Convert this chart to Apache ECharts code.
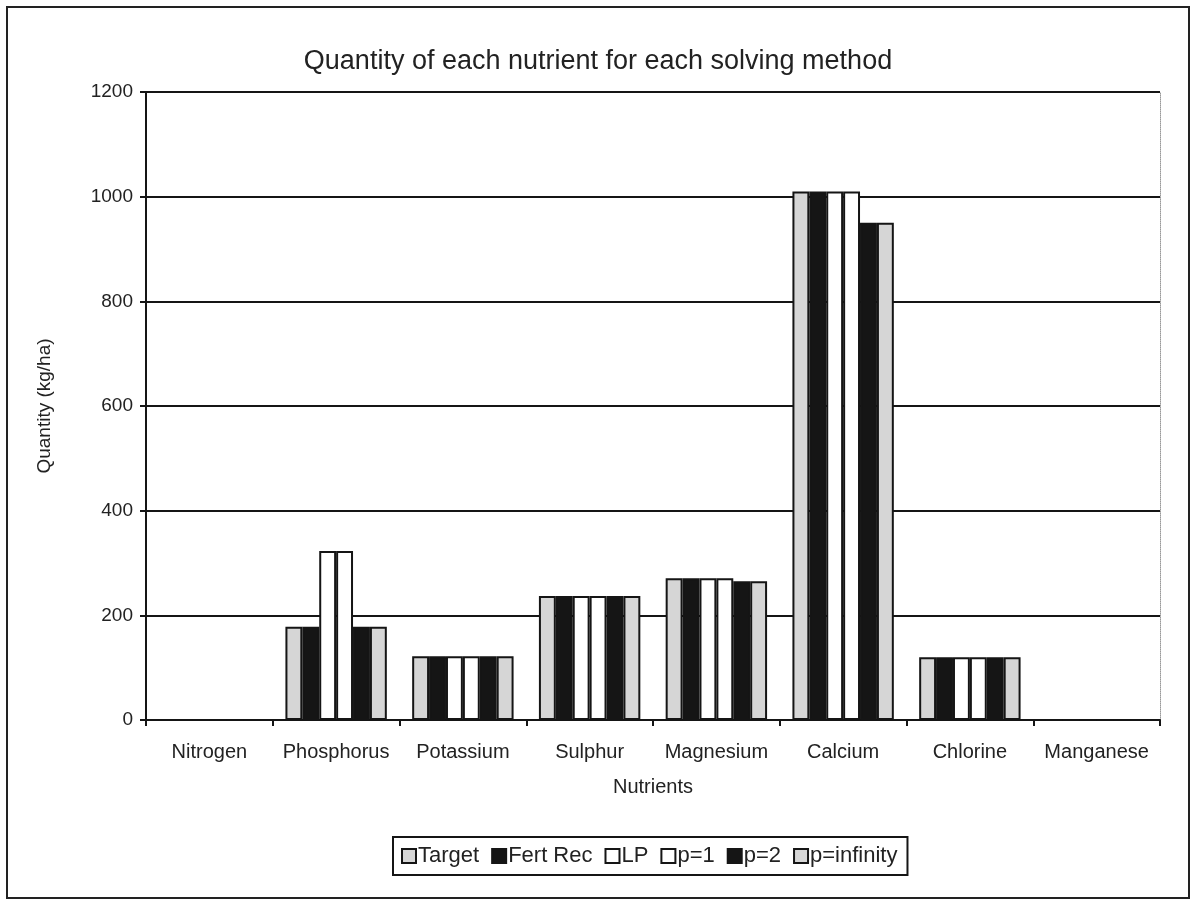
<!DOCTYPE html>
<html>
<head>
<meta charset="utf-8">
<script src="https://cdn.jsdelivr.net/npm/echarts@6/dist/echarts.min.js"></script>
<style>html,body{margin:0;padding:0;background:#fff;}#c{width:1196px;height:904px;}</style>
</head>
<body>
<div id="c"></div>
<script>
const categories = ['Nitrogen','Phosphorus','Potassium','Sulphur','Magnesium','Calcium','Chlorine','Manganese'];
const target    = [0, 178, 122, 237, 271, 1010, 120, 0];
const fertRec   = [0, 178, 122, 237, 271, 1010, 120, 0];
const lp        = [0, 323, 122, 237, 271, 1010, 120, 0];
const p1        = [0, 323, 122, 237, 271, 1010, 120, 0];
const p2        = [0, 178, 122, 237, 265, 950, 120, 0];
const pInf      = [0, 178, 122, 237, 265, 950, 120, 0];
const seriesNames = ['Target','Fert Rec','LP','p=1','p=2','p=infinity'];
const yTicks = [0, 200, 400, 600, 800, 1000, 1200];

const fills = ['#d6d6d6', '#151515', '#ffffff', '#ffffff', '#151515', '#d6d6d6'];
const dataSets = [target, fertRec, lp, p1, p2, pInf];
const FONT = 'Liberation Sans, Arial, sans-serif';

const chart = echarts.init(document.getElementById('c'), null, {renderer: 'canvas'});
const series = dataSets.map((d, i) => ({
  name: seriesNames[i],
  type: 'bar',
  data: d,
  barGap: '0%',
  barCategoryGap: '20%',
  itemStyle: { color: fills[i], borderColor: '#151515', borderWidth: 2 },
  emphasis: { disabled: true }
}));

chart.setOption({
  animation: false,
  backgroundColor: '#fff',
  title: {
    text: 'Quantity of each nutrient for each solving method',
    left: 'center', top: 43,
    textStyle: { fontFamily: FONT, fontSize: 27, fontWeight: 'normal', color: '#222' }
  },
  grid: { left: 146, right: 36, top: 92, bottom: 184 },
  legend: {
    data: seriesNames,
    left: 393, top: 837,
    itemWidth: 14, itemHeight: 14, itemGap: 12,
    padding: [8, 10, 8, 8],
    borderColor: '#151515', borderWidth: 2,
    icon: 'rect',
    textStyle: { fontFamily: FONT, fontSize: 22, color: '#222', padding: [0, 0, 0, -3] }
  },
  xAxis: {
    type: 'category',
    data: categories,
    name: 'Nutrients',
    nameLocation: 'middle',
    nameGap: 57,
    nameTextStyle: { fontFamily: FONT, fontSize: 20, color: '#222' },
    axisLine: { lineStyle: { color: '#151515', width: 2 } },
    axisTick: { show: true, length: 6, lineStyle: { color: '#151515', width: 2 } },
    axisLabel: { fontFamily: FONT, fontSize: 20, color: '#222', margin: 22, interval: 0, hideOverlap: false }
  },
  yAxis: [{
    type: 'value',
    min: 0, max: 1200, interval: 200,
    name: 'Quantity (kg/ha)',
    nameLocation: 'middle',
    nameGap: 92,
    nameTextStyle: { fontFamily: FONT, fontSize: 19, color: '#222' },
    axisLine: { show: true, lineStyle: { color: '#151515', width: 2 } },
    axisTick: { show: true, length: 6, lineStyle: { color: '#151515', width: 2 } },
    axisLabel: { fontFamily: FONT, fontSize: 19, color: '#222', margin: 13,
      formatter: v => yTicks.includes(v) ? String(v) : '' },
    splitLine: { show: true, lineStyle: { color: '#151515', width: 2 } }
  }, {
    type: 'value',
    min: 0, max: 1200, interval: 200,
    position: 'right',
    axisLine: { show: true, lineStyle: { color: '#999', width: 1, type: 'dotted' } },
    axisTick: { show: false },
    axisLabel: { show: false },
    splitLine: { show: false }
  }],
  series: series,
  graphic: [{
    type: 'rect',
    shape: { x: 7, y: 7, width: 1182, height: 891 },
    style: { fill: null, stroke: '#222', lineWidth: 2 },
    silent: true
  }]
});
</script>
</body>
</html>
